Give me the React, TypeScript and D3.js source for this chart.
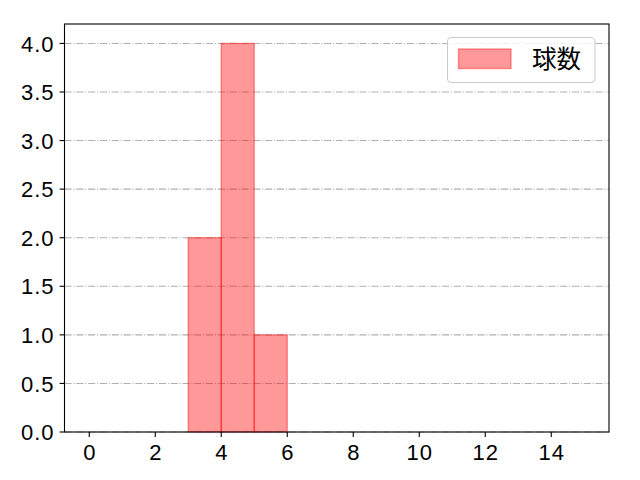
import React from "react";
import * as d3 from "d3";

const binStarts = [3, 4, 5];
const counts = [2, 4, 1];
const xTicks = [0, 2, 4, 6, 8, 10, 12, 14];
const yTicks = [0, 0.5, 1.0, 1.5, 2.0, 2.5, 3.0, 3.5, 4.0];
const seriesName = "球数";

const W = 640, H = 480;
const L = 64.5, R = 609, T = 24, B = 432;
const FONT = "'Noto Sans CJK JP', 'DejaVu Sans', sans-serif";
const TICKFONT = "'Liberation Sans', Arial, sans-serif";
const FS = 24.5;
const TFS = 22;
const LS = 1;

export default function App() {
  const x = d3.scaleLinear().domain([-0.75, 15.75]).range([L, R]);
  const y = d3.scaleLinear().domain([0, 4.2]).range([B, T]);
  return (
    <svg width={W} height={H} style={{ position: "absolute", left: 0, top: 0, background: "#fff" }} fontFamily={FONT}>
      <rect x={0} y={0} width={W} height={H} fill="#fff" />
      {yTicks.map((t) => (
        <line key={"g" + t} x1={L} x2={R} y1={y(t)} y2={y(t)} stroke="#b0b0b0" strokeWidth={1.1} strokeDasharray="7.1,1.8,1.1,1.8" />
      ))}
      {binStarts.map((s, i) => (
        <rect key={i} x={x(s)} y={y(counts[i])} width={x(s + 1) - x(s)} height={y(0) - y(counts[i])}
          fill="red" fillOpacity={0.4} stroke="red" strokeOpacity={0.4} strokeWidth={1.4} />
      ))}
      <rect x={L} y={T} width={R - L} height={B - T} fill="none" stroke="#000" strokeWidth={1.1} />
      {xTicks.map((t) => (
        <g key={"x" + t}>
          <line x1={x(t)} x2={x(t)} y1={B} y2={B + 4.9} stroke="#000" strokeWidth={1.1} />
          <text x={x(t) + LS / 2} y={B + 27.5} textAnchor="middle" fontSize={TFS} letterSpacing={LS} fontFamily={TICKFONT} fill="#000">{t}</text>
        </g>
      ))}
      {yTicks.map((t) => (
        <g key={"y" + t}>
          <line x1={L - 4.9} x2={L} y1={y(t)} y2={y(t)} stroke="#000" strokeWidth={1.1} />
          <text x={L - 11 + LS} y={y(t) + 8.2} textAnchor="end" fontSize={TFS} letterSpacing={LS} fontFamily={TICKFONT} fill="#000">{t.toFixed(1)}</text>
        </g>
      ))}
      <g>
        <rect x={447.5} y={37.5} width={147.5} height={45} rx={4} fill="#fff" fillOpacity={0.8} stroke="#cccccc" strokeWidth={1.1} />
        <rect x={458.5} y={49} width={52.5} height={19.5} fill="red" fillOpacity={0.4} stroke="red" strokeOpacity={0.4} strokeWidth={1.4} />
        <text x={532} y={68} fontSize={FS} fill="#000">{seriesName}</text>
      </g>
    </svg>
  );
}
